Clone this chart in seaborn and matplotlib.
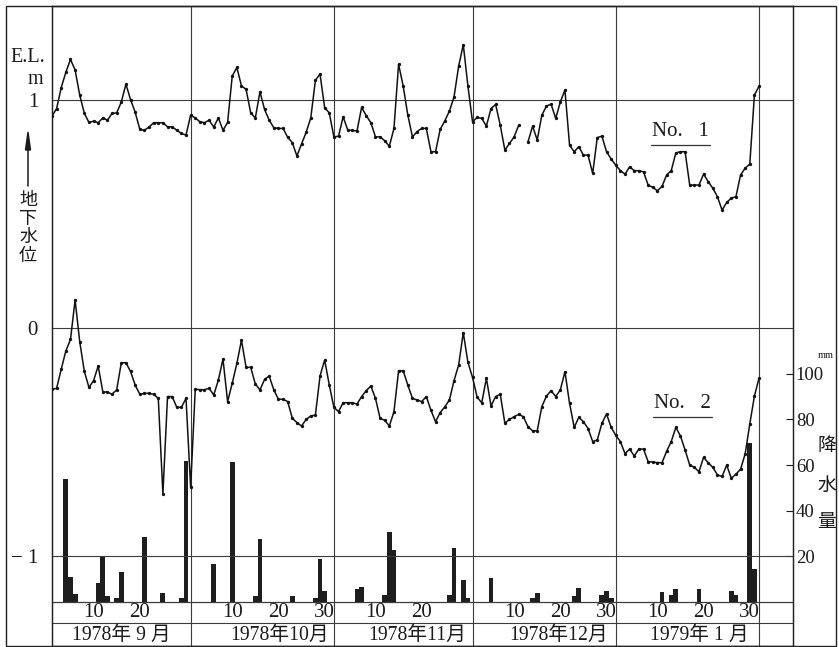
import matplotlib
matplotlib.use("Agg")
import numpy as np
import pandas as pd
import matplotlib.pyplot as plt
from matplotlib.patches import Rectangle, Polygon
import seaborn as sns

# Groundwater level of wells No.1 and No.2, E.L. (m), one reading per day
# starting 1 Sep 1978; the January lists run on to 1 Feb 1979.
no1_sep = [0.928, 0.961, 1.053, 1.120, 1.176, 1.130, 1.020, 0.940, 0.900, 0.906,
           0.899, 0.920, 0.910, 0.940, 0.942, 0.990, 1.068, 1.000, 0.945, 0.870,
           0.866, 0.880, 0.899, 0.899, 0.899, 0.881, 0.881, 0.866, 0.852, 0.845]
no1_oct = [0.932, 0.920, 0.903, 0.899, 0.910, 0.880, 0.920, 0.866, 0.900, 1.103,
           1.141, 1.060, 1.045, 0.942, 0.920, 1.034, 0.957, 0.910, 0.877, 0.874,
           0.874, 0.835, 0.812, 0.753, 0.806, 0.857, 0.920, 1.085, 1.112, 0.965,
           0.942]
no1_nov = [0.837, 0.840, 0.925, 0.867, 0.865, 0.863, 0.966, 0.930, 0.899, 0.837,
           0.837, 0.820, 0.796, 0.874, 1.155, 1.059, 0.932, 0.837, 0.860, 0.874,
           0.874, 0.772, 0.772, 0.870, 0.907, 0.950, 1.012, 1.147, 1.241, 1.060]
no1_dec = [0.903, 0.922, 0.918, 0.884, 0.961, 0.979, 0.888, 0.779, 0.808, 0.837,
           0.888, np.nan, 0.815, 0.884, 0.823, 0.932, 0.972, 0.980, 0.918, 0.990,
           1.042, 0.800, 0.772, 0.794, 0.757, 0.757, 0.677, 0.834, 0.840, 0.772,
           0.740]
no1_jan = [0.713, 0.689, 0.674, 0.706, 0.689, 0.689, 0.684, 0.626, 0.616, 0.601,
           0.620, 0.670, 0.689, 0.767, 0.772, 0.772, 0.626, 0.626, 0.626, 0.674,
           0.641, 0.612, 0.575, 0.516, 0.550, 0.569, 0.575, 0.670, 0.700, 0.718,
           1.020, 1.059]

no2_sep = [-0.268, -0.264, -0.180, -0.100, -0.050, 0.123, -0.060, -0.190, -0.260, -0.230,
           -0.166, -0.280, -0.280, -0.290, -0.270, -0.152, -0.152, -0.190, -0.250, -0.290,
           -0.286, -0.286, -0.290, -0.308, -0.726, -0.300, -0.300, -0.347, -0.347, -0.308]
no2_oct = [-0.697, -0.268, -0.270, -0.270, -0.264, -0.293, -0.228, -0.136, -0.322, -0.242,
           -0.155, -0.053, -0.172, -0.172, -0.245, -0.271, -0.225, -0.210, -0.271, -0.312,
           -0.312, -0.322, -0.395, -0.414, -0.429, -0.400, -0.385, -0.381, -0.210, -0.140,
           -0.249]
no2_nov = [-0.347, -0.366, -0.327, -0.327, -0.327, -0.333, -0.300, -0.274, -0.254, -0.308,
           -0.395, -0.404, -0.429, -0.366, -0.187, -0.187, -0.250, -0.308, -0.315, -0.322,
           -0.300, -0.360, -0.410, -0.370, -0.345, -0.315, -0.230, -0.162, -0.020, -0.150]
no2_dec = [-0.216, -0.303, -0.327, -0.220, -0.341, -0.300, -0.290, -0.417, -0.400, -0.388,
           -0.378, -0.388, -0.432, -0.450, -0.450, -0.344, -0.298, -0.274, -0.300, -0.271,
           -0.191, -0.330, -0.435, -0.391, -0.410, -0.440, -0.497, -0.490, -0.417, -0.376,
           -0.435]
no2_jan = [-0.470, -0.497, -0.550, -0.530, -0.560, -0.530, -0.530, -0.585, -0.587, -0.589,
           -0.590, -0.540, -0.497, -0.435, -0.473, -0.534, -0.600, -0.610, -0.629, -0.566,
           -0.590, -0.610, -0.643, -0.650, -0.600, -0.658, -0.640, -0.618, -0.551, -0.420,
           -0.298, -0.220]

# Daily precipitation (mm); rain_day counts days after 1 Sep 1978
rain_day = [3, 4, 5, 10, 11, 12, 14, 15, 20, 24, 28, 29,
            35, 39, 44, 45, 52, 57, 58, 59,
            66, 67, 72, 73, 74, 86, 87, 89, 90,
            95, 104, 105, 113, 114, 119, 120, 121,
            132, 134, 135, 140, 147, 148, 151, 152]
rain_mm = [54, 11, 3.7, 8.5, 20, 2.6, 2, 13, 28.7, 4, 2, 62,
           16.8, 61.2, 2.6, 27.8, 2.6, 2, 18.8, 4.8,
           5.6, 6.7, 3, 30.9, 22.7, 3, 23.9, 9.5, 2,
           10.7, 2, 4, 2.6, 6, 3, 4.8, 2,
           4.5, 3, 5.9, 5.6, 4.8, 3, 69.6, 14.4]

month_names = ["1978年 9 月", "1978年10月", "1978年11月", "1978年12月", "1979年 1 月"]
month_len = [30, 31, 30, 31, 31]
month_day_ticks = [[10, 20], [10, 20, 30], [10, 20], [10, 20, 30], [10, 20, 30]]
month_label_pos = [15.0, 49.3, 79.0, 109.7, 140.0]
level_ticks = [1, 0, -1]
level_tick_labels = ["1", "0", "\u2212 1"]
rain_ticks = [20, 40, 60, 80, 100]

# ---------------------------------------------------------------- layout
W, H = 839, 647
SERIF = "Liberation Serif"
JP = "Noto Sans CJK JP"
MIXED = [SERIF, JP]

sns.set_style("white")
plt.rcParams["font.family"] = MIXED
plt.rcParams["axes.unicode_minus"] = True

fig = plt.figure(figsize=(W / 100, H / 100), dpi=100)


def fx(px):
    return px / W


def fy(py):
    return 1 - py / H


ax = fig.add_axes([fx(52), fy(645.5), fx(793) - fx(52), fy(6) - fy(645.5)])
axr = ax.twinx()
ax.set_zorder(axr.get_zorder() + 1)
ax.patch.set_visible(False)

y_top, y_bot = 1.41, -1.39
x_max = 160.35
rain_base = -1.2      # level at which 0 mm sits
row_split = -1.29     # divider between the day row and the month row
day_row_y = -1.247
month_row_y = -1.344

ink = "#111111"
txt = "#1a1a1a"
grid_c = "#3c3c3c"

# ---------------------------------------------------------------- data frames
def frame(levels):
    df = pd.DataFrame({"day": np.arange(len(levels)), "level": levels})
    df["seg"] = df["level"].isna().cumsum()
    return df.dropna()


well1 = frame(no1_sep + no1_oct + no1_nov + no1_dec + no1_jan)
well2 = frame(no2_sep + no2_oct + no2_nov + no2_dec + no2_jan)
rain = pd.DataFrame({"day": rain_day, "mm": rain_mm})

# ---------------------------------------------------------------- precipitation
sns.barplot(data=rain, x="day", y="mm", native_scale=True, width=1.05,
            color="#1e1e1e", saturation=1, errorbar=None, linewidth=0,
            ax=axr)

# ---------------------------------------------------------------- grid frame
month_start = np.cumsum([0] + month_len)
for y in level_ticks:
    ax.axhline(y, color=grid_c, lw=0.8, zorder=1)
ax.axhline(rain_base, color=grid_c, lw=0.9, zorder=1)
ax.axhline(row_split, color=grid_c, lw=0.8, zorder=1)
for b in month_start[1:]:
    ax.axvline(b, color=grid_c, lw=0.8, zorder=1)

# ---------------------------------------------------------------- level lines
for df in (well1, well2):
    sns.lineplot(data=df, x="day", y="level", units="seg", estimator=None,
                 color=ink, lw=1.1, marker="o", markersize=2.4,
                 markeredgewidth=0, ax=ax, legend=False, zorder=3)

# ---------------------------------------------------------------- axes styling
ax.set_xlim(0, x_max)
ax.set_ylim(y_bot, y_top)
axr.set_ylim((y_bot - rain_base) * 100, (y_top - rain_base) * 100)
for a in (ax, axr):
    a.set_xlabel("")
    a.set_ylabel("")
    a.set_xticks([])
    for s in a.spines.values():
        s.set_color("#222222")
        s.set_linewidth(0.9)

ax.set_yticks(level_ticks)
ax.set_yticklabels(level_tick_labels, fontsize=15, family=SERIF)
ax.tick_params(axis="y", length=0, pad=10, colors=txt)

axr.set_yticks(rain_ticks)
axr.set_yticklabels([str(t) for t in rain_ticks], fontsize=13.5, family=SERIF)
axr.tick_params(axis="y", direction="in", length=5, width=0.8, pad=2,
                colors=txt)

# day numbers and month names under the plot
for start, ticks in zip(month_start[:-1], month_day_ticks):
    for d in ticks:
        ax.text(start + d - 1, day_row_y, str(d), ha="center", va="center",
                fontsize=15, family=SERIF, color=txt)
for pos, name in zip(month_label_pos, month_names):
    ax.text(pos, month_row_y, name, ha="center", va="center",
            fontsize=14.2, family=MIXED, color=txt)

# well names with underline
for name, (lx, ly) in {"No.   1": (136.0, 0.86), "No.   2": (136.4, -0.33)}.items():
    ax.text(lx, ly, name, ha="center", va="center", fontsize=15,
            family=SERIF, color=txt)
    ax.plot([lx - 6.4, lx + 6.4], [ly - 0.058, ly - 0.058], color="#333333",
            lw=0.9)

# ---------------------------------------------------------------- side titles
fig.text(fx(28), fy(58), "E.L.", ha="center", va="center", fontsize=14.5,
         family=SERIF, color=txt)
fig.text(fx(35), fy(79), "m", ha="center", va="center", fontsize=14.5,
         family=SERIF, color=txt)
fig.text(fx(28), fy(228), "地\n下\n水\n位", ha="center", va="center",
         fontsize=13, family=JP, color=txt, linespacing=1.05)
fig.add_artist(plt.Line2D([fx(28), fx(28)], [fy(186), fy(150)],
                          color=txt, lw=1.1))
fig.add_artist(Polygon([[fx(25.5), fy(150)], [fx(30.5), fy(150)], [fx(28), fy(132)]],
                       closed=True, color=txt, transform=fig.transFigure))

fig.text(fx(826), fy(355), "mm", ha="center", va="center", fontsize=7.5,
         family=SERIF, color=txt)
for ch, py in zip("降水量", [446, 485, 521]):
    fig.text(fx(827), fy(py), ch, ha="center", va="center", fontsize=13.5,
             family=JP, color=txt)

# outer frame
fig.add_artist(Rectangle((fx(6), fy(645.5)), fx(836) - fx(6), fy(5.5) - fy(645.5),
                         transform=fig.transFigure, fill=False,
                         edgecolor="#222222", lw=1.0))

fig.savefig("out.png", dpi=100, facecolor="white")
